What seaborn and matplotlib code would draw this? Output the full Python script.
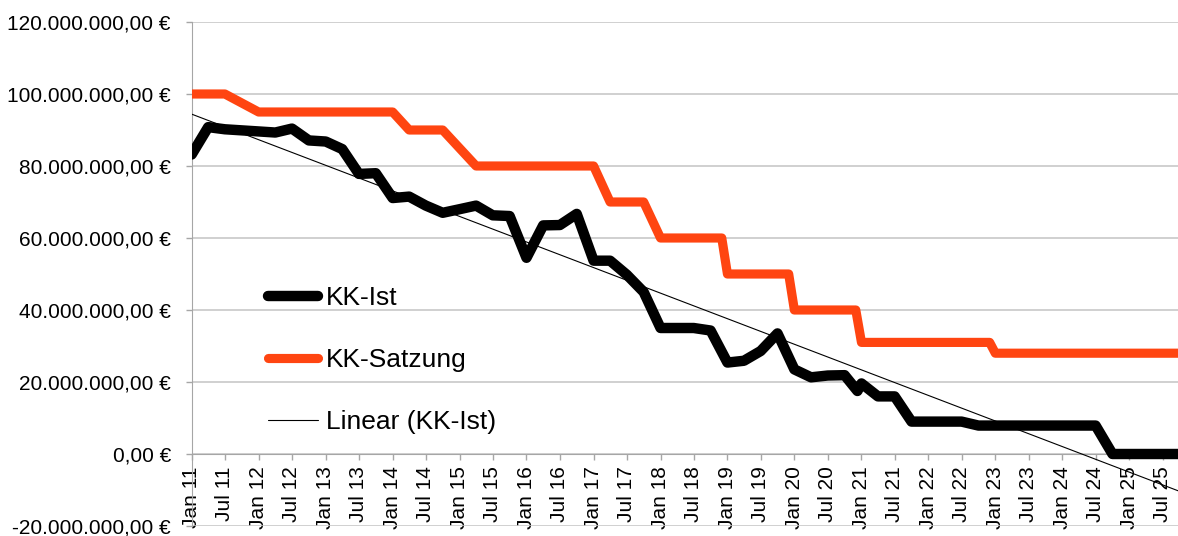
import numpy as np
import pandas as pd
import matplotlib
matplotlib.use('Agg')
import matplotlib.pyplot as plt
import matplotlib.dates as mdates
from matplotlib.ticker import FuncFormatter
import seaborn as sns

# KK-Ist (Mio. EUR)
ist_dates = ['2011-01-01', '2011-04-01', '2011-07-01', '2011-10-01',
             '2012-01-01', '2012-04-01', '2012-07-01', '2012-10-01',
             '2013-01-01', '2013-04-01', '2013-07-01', '2013-10-01',
             '2014-01-01', '2014-04-01', '2014-07-01', '2014-10-01',
             '2015-01-01', '2015-04-01', '2015-07-01', '2015-10-01',
             '2016-01-01', '2016-04-01', '2016-07-01', '2016-10-01',
             '2017-01-01', '2017-04-01', '2017-07-01', '2017-10-01',
             '2018-01-01', '2018-04-01', '2018-07-01', '2018-10-01',
             '2019-01-01', '2019-04-01', '2019-07-01', '2019-10-01',
             '2020-01-01', '2020-04-01', '2020-07-01', '2020-10-01',
             '2020-12-10', '2021-01-01', '2021-04-01', '2021-07-01',
             '2021-10-01', '2022-01-01', '2022-04-01', '2022-07-01',
             '2022-10-01', '2023-01-01', '2023-04-01', '2023-07-01',
             '2023-10-01', '2024-01-01', '2024-04-01', '2024-07-01',
             '2024-10-01', '2025-01-01', '2025-04-01', '2025-07-01',
             '2025-10-01']
ist_values = [83.2, 90.8, 90.2, 89.9,
              89.6, 89.3, 90.4, 87.1,
              86.8, 84.7, 77.8, 78.0,
              71.1, 71.5, 69.0, 67.0,
              68.0, 69.0, 66.3, 66.1,
              54.5, 63.5, 63.6, 66.7,
              53.7, 53.7, 49.8, 45.0,
              35.0, 35.0, 35.0, 34.3,
              25.4, 25.9, 28.6, 33.5,
              23.5, 21.3, 21.8, 21.9,
              17.5, 19.6, 16.0, 16.0,
              9.0, 9.0, 9.0, 9.0,
              7.9, 7.9, 7.9, 7.9,
              7.9, 7.9, 7.9, 7.9,
              0.0, 0.0, 0.0, 0.0,
              0.0]

# KK-Satzung (Mio. EUR)
satz_dates = ['2011-01-01', '2011-07-01', '2012-01-01', '2014-01-01',
              '2014-04-01', '2014-10-01', '2015-04-01', '2017-01-01',
              '2017-04-01', '2017-10-01', '2018-01-01', '2018-12-01',
              '2019-01-01', '2019-12-01', '2020-01-01', '2020-12-01',
              '2021-01-01', '2022-12-01', '2023-01-01', '2025-10-01']
satz_values = [100, 100, 95, 95,
               90, 90, 80, 80,
               70, 70, 60, 60,
               50, 50, 40, 40,
               31, 31, 28, 28]

x_start = '2011-01-01'
x_end = '2025-10-01'
y_ticks = [-20e6, 0, 20e6, 40e6, 60e6, 80e6, 100e6, 120e6]

df_ist = pd.DataFrame({'Datum': pd.to_datetime(ist_dates),
                       'Wert': np.array(ist_values) * 1e6})
df_satz = pd.DataFrame({'Datum': pd.to_datetime(satz_dates),
                        'Wert': np.array(satz_values) * 1e6})

# linear trend of KK-Ist over the full date range
xn = mdates.date2num(df_ist['Datum'])
k, d = np.polyfit(xn, df_ist['Wert'], 1)
tr_x = pd.to_datetime([x_start, x_end])
df_trend = pd.DataFrame({'Datum': tr_x,
                         'Wert': k * mdates.date2num(tr_x) + d})

sns.set_style('white')
plt.rcParams['font.family'] = ['Liberation Sans', 'DejaVu Sans']
plt.rcParams['text.color'] = 'black'

fig = plt.figure(figsize=(11.78, 5.36), dpi=100)
ax = fig.add_axes([191.7 / 1178, 10 / 536, (1179.4 - 191.7) / 1178, 504 / 536])

sns.lineplot(data=df_ist, x='Datum', y='Wert', color='black', lw=7.5,
             label='KK-Ist', ax=ax, solid_joinstyle='round',
             solid_capstyle='round', zorder=3)
sns.lineplot(data=df_satz, x='Datum', y='Wert', color='#ff4511', lw=6.6,
             label='KK-Satzung', ax=ax, solid_joinstyle='round',
             solid_capstyle='round', zorder=3)
sns.lineplot(data=df_trend, x='Datum', y='Wert', color='black', lw=0.8,
             label='Linear (KK-Ist)', ax=ax, zorder=4)

ax.set_xlim(pd.Timestamp(x_start), pd.Timestamp(x_end))
ax.set_ylim(-20e6, 120e6)
ax.set_yticks(y_ticks)

def eur(v, pos):
    s = f"{v:,.2f}".replace(',', 'X').replace('.', ',').replace('X', '.')
    return s + ' €'

ax.yaxis.set_major_formatter(FuncFormatter(eur))
ax.set_xticks(pd.date_range('2011-01-01', '2025-07-01', freq='6MS'))
ax.xaxis.set_major_formatter(mdates.DateFormatter('%b %y'))
ax.set_xlabel('')
ax.set_ylabel('')

ax.yaxis.grid(True, color='#c4c4c4', lw=1.1)
ax.set_axisbelow(True)
for s in ['top', 'right']:
    ax.spines[s].set_visible(False)
ax.spines['left'].set_color('#a6a6a6')
ax.spines['bottom'].set_color('#a6a6a6')
ax.spines['bottom'].set_position(('data', 0))

ax.tick_params(axis='y', length=4, width=1, color='#a6a6a6', direction='out',
               labelsize=15, pad=11, left=True, labelcolor='black')
ax.tick_params(axis='x', length=4, width=1, color='#a6a6a6', direction='out',
               labelsize=15, pad=5, bottom=True, labelrotation=90,
               labelcolor='black')

ax.legend(loc='center left', bbox_to_anchor=(0.077, 0.329), frameon=False,
          fontsize=19, handlelength=1.9, handletextpad=0.3,
          labelspacing=1.43, borderaxespad=0, borderpad=0,
          labelcolor='black')

fig.savefig('out.png', dpi=100)
